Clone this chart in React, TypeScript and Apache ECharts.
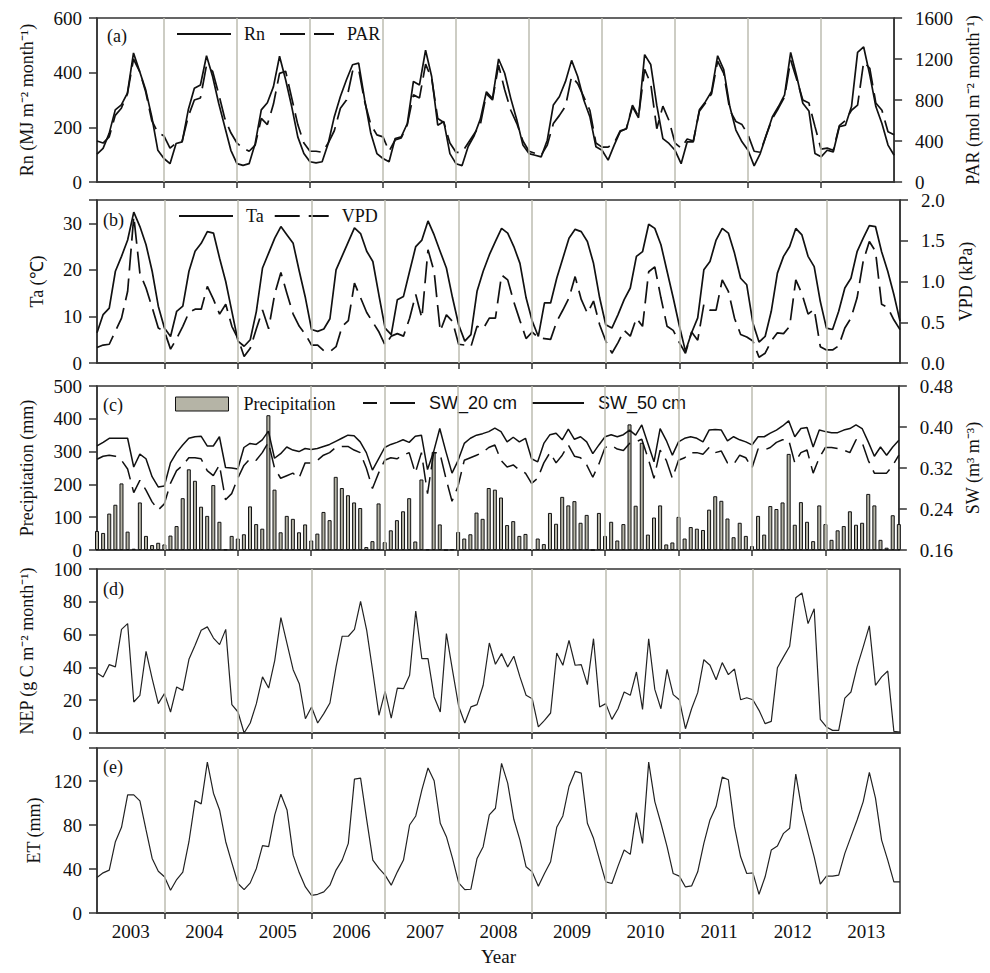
import React, { useEffect, useRef } from 'react';
import * as echarts from 'echarts';

const YEARS = ['2003', '2004', '2005', '2006', '2007', '2008', '2009', '2010', '2011', '2012', '2013'];

const RN = [
  102, 123, 178, 264, 282, 325, 472, 405, 337, 239, 116, 86,
  67, 141, 147, 264, 343, 355, 462, 386, 288, 202, 116, 67,
  61, 67, 141, 264, 290, 349, 460, 374, 276, 165, 104, 74,
  70, 74, 141, 239, 313, 374, 429, 435, 300, 178, 104, 86,
  74, 159, 165, 214, 368, 355, 482, 386, 208, 221, 104, 67,
  60, 130, 170, 230, 330, 305, 450, 398, 306, 227, 135, 104,
  98, 92, 153, 282, 313, 368, 445, 386, 300, 239, 129, 116,
  80, 135, 185, 195, 275, 235, 466, 430, 280, 159, 141, 116,
  67, 147, 147, 264, 294, 331, 462, 411, 276, 190, 147, 116,
  59, 104, 172, 239, 276, 319, 474, 386, 288, 260, 104, 92,
  116, 110, 202, 208, 276, 474, 494, 392, 276, 214, 135, 98,
];

const PAR = [
  400, 380, 440, 650, 720, 860, 1200, 1080, 880, 600, 480, 450,
  330, 380, 400, 640, 800, 820, 1140, 1080, 860, 620, 480, 380,
  330, 300, 360, 620, 560, 760, 1060, 1080, 820, 560, 380, 300,
  300, 290, 380, 500, 720, 800, 1080, 1100, 780, 560, 460, 440,
  300, 410, 430, 560, 850, 820, 1150, 1010, 620, 580, 380, 290,
  290, 380, 470, 560, 860, 800, 1140, 900, 700, 570, 400, 300,
  280, 260, 360, 570, 650, 740, 1030, 960, 830, 700, 380, 340,
  340, 380, 500, 520, 750, 640, 1100, 960, 520, 740, 600, 380,
  330, 420, 400, 690, 770, 860, 1180, 1060, 700, 590, 560, 460,
  300, 290, 460, 620, 720, 830, 1190, 1000, 800, 770, 540, 320,
  330, 310, 550, 600, 700, 750, 1170, 1110, 770, 700, 490, 460,
];

const TA = [
  6.5, 10.4, 11.8, 19.7, 22.9, 26.4, 32.4, 29.3, 25.4, 19.7, 12.2, 7.5,
  5.7, 11.1, 12.2, 19.7, 24, 25.7, 28.2, 27.9, 22.5, 17.5, 11.1, 4.7,
  3.6, 5.0, 11.1, 20.4, 23.6, 26.8, 29.3, 27.5, 25.7, 19.7, 14, 7.2,
  6.8, 7.3, 9.5, 20, 23, 26, 29, 27.8, 24, 21.8, 14.5, 7.5,
  6.1, 13.6, 14.3, 19.7, 25, 26.4, 30.5, 27.5, 23.9, 20.4, 14, 8.2,
  4.7, 6.1, 15.4, 19.7, 23.2, 26.1, 28.9, 27.9, 25, 21.4, 14, 9,
  5.7, 12.9, 12.9, 18.2, 22.5, 26.8, 28.7, 28.2, 26.1, 21.4, 14, 8.2,
  7.5, 10.4, 13.6, 16.1, 22.9, 23.9, 29.8, 28.9, 25.4, 19.7, 14, 8,
  2.5, 6.5, 9.7, 20, 21.8, 26.4, 28.9, 27.9, 23.6, 18.2, 16.8, 8.6,
  4.5, 5.7, 11.1, 19.3, 22.9, 25, 28.9, 27.5, 22.9, 20.7, 13.2, 7.5,
  7.2, 11.1, 16.1, 18.2, 23.9, 26.8, 29.5, 29.3, 23.9, 19.7, 14.7, 9,
];

const VPD = [
  0.19, 0.22, 0.23, 0.39, 0.55, 0.88, 1.80, 1.10, 0.92, 0.68, 0.43, 0.39,
  0.17, 0.30, 0.45, 0.62, 0.66, 0.66, 0.94, 0.78, 0.60, 0.72, 0.45, 0.30,
  0.08, 0.18, 0.42, 0.65, 0.42, 0.85, 1.11, 0.85, 0.60, 0.45, 0.35, 0.22,
  0.22, 0.15, 0.14, 0.20, 0.45, 0.52, 0.98, 0.80, 0.62, 0.50, 0.38, 0.22,
  0.33, 0.36, 0.33, 0.55, 0.84, 0.55, 1.39, 1.12, 0.39, 0.59, 0.51, 0.23,
  0.22, 0.20, 0.45, 0.42, 0.55, 0.55, 1.08, 1.02, 0.75, 0.52, 0.30, 0.38,
  0.31, 0.30, 0.29, 0.51, 0.65, 0.80, 1.06, 0.78, 0.61, 0.76, 0.47, 0.27,
  0.12, 0.25, 0.40, 0.33, 0.55, 0.45, 1.12, 1.18, 0.80, 0.45, 0.40, 0.25,
  0.12, 0.38, 0.28, 0.72, 0.65, 0.65, 1.02, 0.88, 0.55, 0.35, 0.32, 0.27,
  0.07, 0.12, 0.27, 0.37, 0.36, 0.45, 1.02, 0.85, 0.60, 0.66, 0.20, 0.16,
  0.16, 0.21, 0.43, 0.55, 0.80, 1.25, 1.49, 1.37, 0.72, 0.68, 0.53, 0.41,
];

const PRECIP = [
  58, 52, 111, 138, 203, 56, 4, 145, 43, 15, 22, 17,
  44, 73, 158, 246, 211, 132, 104, 198, 86, 2, 43, 35,
  48, 133, 79, 65, 411, 184, 54, 104, 95, 54, 78, 29,
  50, 116, 91, 223, 189, 167, 145, 128, 9, 27, 142, 24,
  60, 91, 118, 158, 26, 215, 2, 299, 78, 0, 2, 55,
  35, 48, 114, 95, 189, 184, 160, 76, 88, 43, 49, 2,
  35, 18, 113, 80, 162, 136, 149, 83, 107, 0, 113, 43,
  86, 29, 79, 383, 135, 327, 47, 99, 136, 17, 23, 101,
  35, 70, 65, 61, 123, 164, 150, 96, 39, 83, 43, 12,
  104, 47, 134, 125, 145, 293, 77, 146, 86, 27, 136, 79,
  31, 60, 73, 118, 77, 83, 171, 136, 31, 7, 106, 79,
];

const SW20 = [
  0.337, 0.343, 0.345, 0.343, 0.335, 0.318, 0.272, 0.296, 0.277, 0.254, 0.238, 0.250,
  0.290, 0.315, 0.325, 0.340, 0.340, 0.338, 0.315, 0.305, 0.326, 0.258, 0.270, 0.300,
  0.325, 0.338, 0.335, 0.350, 0.370, 0.320, 0.300, 0.305, 0.310, 0.300, 0.330, 0.330,
  0.335, 0.345, 0.350, 0.360, 0.362, 0.362, 0.355, 0.350, 0.320, 0.280, 0.310, 0.335,
  0.340, 0.338, 0.345, 0.350, 0.310, 0.350, 0.270, 0.350, 0.350, 0.300, 0.255, 0.285,
  0.335, 0.340, 0.345, 0.350, 0.360, 0.365, 0.335, 0.322, 0.326, 0.316, 0.310, 0.290,
  0.300, 0.330, 0.350, 0.330, 0.345, 0.365, 0.343, 0.340, 0.326, 0.302, 0.328, 0.360,
  0.364, 0.357, 0.354, 0.368, 0.371, 0.376, 0.340, 0.300, 0.355, 0.335, 0.300, 0.335,
  0.340, 0.350, 0.350, 0.347, 0.360, 0.350, 0.353, 0.330, 0.327, 0.345, 0.340, 0.320,
  0.357, 0.355, 0.360, 0.370, 0.375, 0.375, 0.330, 0.350, 0.355, 0.310, 0.340, 0.360,
  0.360, 0.358, 0.355, 0.350, 0.375, 0.370, 0.335, 0.310, 0.310, 0.310, 0.325, 0.345,
];

const SW50 = [
  0.363, 0.370, 0.378, 0.378, 0.378, 0.378, 0.322, 0.347, 0.338, 0.303, 0.283, 0.285,
  0.330, 0.350, 0.365, 0.378, 0.381, 0.382, 0.363, 0.363, 0.381, 0.321, 0.320, 0.318,
  0.360, 0.368, 0.366, 0.375, 0.392, 0.339, 0.348, 0.361, 0.355, 0.352, 0.358, 0.356,
  0.358, 0.362, 0.366, 0.372, 0.378, 0.384, 0.383, 0.371, 0.350, 0.316, 0.338, 0.360,
  0.366, 0.370, 0.375, 0.370, 0.382, 0.384, 0.317, 0.352, 0.397, 0.352, 0.310, 0.335,
  0.368, 0.378, 0.384, 0.387, 0.391, 0.398, 0.391, 0.371, 0.380, 0.371, 0.378, 0.338,
  0.332, 0.368, 0.385, 0.388, 0.375, 0.396, 0.376, 0.381, 0.371, 0.348, 0.365, 0.381,
  0.385, 0.381, 0.385, 0.394, 0.384, 0.404, 0.368, 0.332, 0.397, 0.374, 0.345, 0.371,
  0.378, 0.381, 0.378, 0.371, 0.394, 0.395, 0.394, 0.373, 0.381, 0.375, 0.371, 0.365,
  0.381, 0.381, 0.388, 0.394, 0.402, 0.412, 0.381, 0.397, 0.399, 0.361, 0.394, 0.391,
  0.389, 0.389, 0.394, 0.397, 0.404, 0.397, 0.371, 0.343, 0.361, 0.345, 0.361, 0.374,
];

const NEP = [
  36.6, 34.2, 41.7, 40.3, 63.2, 66.7, 18.9, 23, 49.8, 33.1, 17.9, 24,
  12.8, 28.1, 26, 44.9, 53.5, 62.6, 64.7, 57.9, 53.9, 63.2, 17.3, 12.8,
  0, 6.1, 17.9, 34.2, 27.4, 44.3, 70.3, 54.5, 38.6, 30.1, 8.7, 15.9,
  6.1, 11.8, 18.3, 40.3, 59, 59, 63.2, 80.3, 62.6, 37.2, 10.8, 25.4,
  9.1, 27.4, 27, 35.2, 74.4, 45.3, 45.3, 22, 12.8, 60.6, 38.2, 16.3,
  6.1, 15.9, 17.3, 29.1, 54.9, 41.9, 48.4, 40.3, 46.8, 34.2, 23, 20.9,
  3.7, 7.7, 12.2, 48.8, 41.3, 56.5, 41.3, 41.7, 29.5, 57.5, 15.9, 17.9,
  8.3, 14.8, 25, 23, 37.2, 14.4, 57.5, 26.6, 14.8, 38.8, 23.4, 20.3,
  2.6, 14.8, 24.6, 44.7, 41.3, 32.5, 42.9, 35.6, 39, 20.3, 21.5, 20.3,
  13.8, 5.7, 7.1, 39.8, 46.4, 52.9, 82.5, 85.4, 66.7, 75.8, 8.3, 3.7,
  1.6, 1.6, 21.3, 25, 40.3, 52.5, 65.3, 29.1, 34.2, 37.8, 1, 0.6,
];

const ET = [
  32.3, 36.5, 39, 64.8, 77.9, 107.4, 107.4, 101.9, 75.5, 49.6, 38, 32.9,
  20.7, 30.4, 37.1, 64.8, 102.2, 99.2, 137.2, 108.9, 93.7, 64.8, 45.6, 26.8,
  21.3, 27.4, 40.5, 61.2, 60.3, 89.2, 108, 93.7, 52.6, 36.5, 23.7, 16.1,
  17, 19.2, 25.3, 39, 48.1, 63.3, 121.7, 122.6, 84.6, 48.1, 40.5, 34.4,
  25.3, 37.4, 48.1, 80, 88.2, 112, 131.8, 120.2, 81.6, 69.4, 49.6, 27.4,
  21.3, 21.6, 49.6, 60.3, 89.2, 95.2, 136, 118.1, 85.2, 66.3, 42, 37.4,
  24.3, 35.9, 46.6, 77.9, 88.2, 115, 128.7, 127.2, 81.6, 67.9, 48.1, 28.3,
  26.8, 42.6, 57.2, 53.3, 91.3, 63.3, 137.2, 101.3, 81.6, 60.3, 35.9, 33.5,
  23.7, 24.6, 37.4, 63.3, 84.6, 96.8, 123.5, 121.1, 78.5, 51.1, 35.9, 36.5,
  17, 32.9, 57.2, 60.9, 72.4, 77, 126.3, 93.7, 72.4, 51.1, 26.2, 33.5,
  33.5, 34.4, 54.2, 69.4, 84.6, 101.3, 127.8, 104.4, 66.3, 48.1, 28.3, 28.3,
];

// month index of each year-end separator (December of 2003 ... 2012)
const SEPARATORS = [11, 23, 35, 47, 59, 71, 83, 95, 107, 119];
const YEAR_LABEL_POS = YEARS.map((_, k) => k * 12 + 5.5);

const SERIF = '"Liberation Serif", "Times New Roman", serif';
const SANS = '"Liberation Sans", Arial, sans-serif';
const AXIS_COLOR = '#333';
const SEP_COLOR = '#bdbdb0';

const GRIDS = [
  { top: 18, height: 164 },
  { top: 200, height: 163 },
  { top: 386, height: 164 },
  { top: 569, height: 164 },
  { top: 748, height: 165 },
];

const pairs = (arr: number[]) => arr.map((v, i) => [i, v]);

function buildOption() {
  const grid = GRIDS.map((g) => ({
    left: 97,
    right: 90,
    top: g.top,
    height: g.height,
    show: true,
    borderColor: AXIS_COLOR,
    borderWidth: 1.5,
    backgroundColor: 'transparent',
  }));

  const xAxis = GRIDS.map((_, gi) => ({
    gridIndex: gi,
    type: 'value',
    min: 0,
    max: 131,
    axisLine: { show: true, lineStyle: { color: AXIS_COLOR, width: 1.5 } },
    axisTick: {
      show: true,
      customValues: SEPARATORS,
      length: 6,
      lineStyle: { color: AXIS_COLOR, width: 1.5 },
    },
    axisLabel: {
      show: gi === 4,
      customValues: YEAR_LABEL_POS,
      formatter: (v: number) => YEARS[Math.floor(v / 12)] ?? '',
      fontFamily: SERIF,
      fontSize: 19,
      color: '#111',
      margin: 9,
    },
    splitLine: { show: false },
    name: gi === 4 ? 'Year' : '',
    nameLocation: 'middle',
    nameGap: 34,
    nameTextStyle: { fontFamily: SERIF, fontSize: 19, color: '#111' },
  }));

  const yBase = (gi: number, pos: 'left' | 'right', min: number, max: number, interval: number, name: string, nameGap: number, fmt: (v: number) => string, labelMargin = 15) => ({
    gridIndex: gi,
    type: 'value',
    position: pos,
    min,
    max,
    interval,
    name,
    nameLocation: 'middle',
    nameGap,
    nameRotate: 90,
    nameTextStyle: { fontFamily: SERIF, fontSize: 18, color: '#111' },
    axisLine: { show: true, lineStyle: { color: AXIS_COLOR, width: 1.5 } },
    axisTick: { show: true, length: 8, lineStyle: { color: AXIS_COLOR, width: 1.5 } },
    axisLabel: {
      fontFamily: SERIF,
      fontSize: 19,
      color: '#111',
      margin: labelMargin,
      formatter: fmt,
    },
    splitLine: { show: false },
  });

  const plain = (v: number) => String(v);

  const yAxis = [
    yBase(0, 'left', 0, 600, 200, 'Rn (MJ m⁻² month⁻¹)', 61, plain),
    yBase(0, 'right', 0, 1600, 400, 'PAR (mol m⁻² month⁻¹)', 66, plain, 21),
    yBase(1, 'left', 0, 35, 10, 'Ta (℃)', 51, (v: number) => (v === 35 ? '' : String(v))),
    yBase(1, 'right', 0, 2, 0.5, 'VPD (kPa)', 57, (v: number) => v.toFixed(1), 21),
    yBase(2, 'left', 0, 500, 100, 'Precipitation (mm)', 61, plain),
    yBase(2, 'right', 0.16, 0.48, 0.08, 'SW (m³ m⁻³)', 58, (v: number) => v.toFixed(2), 21),
    yBase(3, 'left', 0, 100, 20, 'NEP (g C m⁻² month⁻¹)', 61, plain),
    yBase(4, 'left', 0, 150, 40, 'ET (mm)', 52, (v: number) => (v === 150 ? '' : String(v))),
  ];

  const sepSeries = GRIDS.map((_, gi) => ({
    name: 'sep' + gi,
    type: 'line',
    xAxisIndex: gi,
    yAxisIndex: [0, 2, 4, 6, 7][gi],
    data: [],
    z: 1,
    silent: true,
    markLine: {
      silent: true,
      symbol: ['none', 'none'],
      label: { show: false },
      lineStyle: { color: SEP_COLOR, width: 1.5, type: 'solid' },
      data: SEPARATORS.map((v) => ({ xAxis: v })),
    },
  }));

  const lineSeries = (name: string, data: number[], xi: number, yi: number, dashed: boolean | number[], width = 1.7, color = '#111') => ({
    name,
    type: 'line',
    xAxisIndex: xi,
    yAxisIndex: yi,
    data: pairs(data),
    symbol: 'none',
    z: 3,
    lineStyle: {
      color,
      width,
      type: dashed ? (Array.isArray(dashed) ? dashed : [22, 8]) : 'solid',
    },
    itemStyle: { color },
  });

  const series: any[] = [
    ...sepSeries,
    lineSeries('Rn', RN, 0, 0, false),
    lineSeries('PAR', PAR, 0, 1, true),
    lineSeries('Ta', TA, 1, 2, false),
    lineSeries('VPD', VPD, 1, 3, true),
    {
      name: 'Precipitation',
      type: 'bar',
      xAxisIndex: 2,
      yAxisIndex: 4,
      data: pairs(PRECIP),
      barWidth: 4,
      z: 2,
      itemStyle: { color: '#b5b4a6', borderColor: '#111', borderWidth: 1 },
    },
    lineSeries('SW_20 cm', SW20, 2, 5, [20, 8], 1.5),
    lineSeries('SW_50 cm', SW50, 2, 5, false, 1.5),
    lineSeries('NEP', NEP, 3, 6, false, 1.2, '#222'),
    lineSeries('ET', ET, 4, 7, false, 1.2, '#222'),
  ];

  const SOLID_ICON = 'path://M0,0h54v2h-54z';
  const DASH_ICON = 'path://M0,0h25v2h-25z M34,0h20v2h-20z';
  const DASH_ICON_SW = 'path://M0,0h14v2h-14z M27,0h25v2h-25z';

  const legend = [
    {
      top: 25, left: 177, padding: 0, itemWidth: 54, itemHeight: 2, itemGap: 15,
      selectedMode: false,
      data: [{ name: 'Rn', icon: SOLID_ICON }, { name: 'PAR', icon: DASH_ICON }],
      textStyle: { fontFamily: SERIF, fontSize: 18, color: '#111', padding: [0, 0, 0, 8] },
    },
    {
      top: 207, left: 179, padding: 0, itemWidth: 54, itemHeight: 2, itemGap: 11,
      selectedMode: false,
      data: [{ name: 'Ta', icon: SOLID_ICON }, { name: 'VPD', icon: DASH_ICON }],
      textStyle: { fontFamily: SERIF, fontSize: 18, color: '#111', padding: [0, 0, 0, 8] },
    },
    {
      top: 395, left: 175, padding: 0, itemWidth: 53, itemHeight: 14, itemGap: 0,
      selectedMode: false,
      data: [{ name: 'Precipitation', icon: 'rect' }],
      itemStyle: { borderColor: '#111', borderWidth: 1 },
      textStyle: { fontFamily: SERIF, fontSize: 18, color: '#111', padding: [0, 0, 0, 10] },
    },
    {
      top: 394, left: 363, padding: 0, itemWidth: 52, itemHeight: 2, itemGap: 15,
      selectedMode: false,
      data: [{ name: 'SW_20 cm', icon: DASH_ICON_SW }, { name: 'SW_50 cm', icon: SOLID_ICON }],
      textStyle: { fontFamily: SANS, fontSize: 18, color: '#111', padding: [0, 0, 0, 9] },
    },
  ];

  const panelLabels = [
    { t: '(a)', x: 107, y: 27 },
    { t: '(b)', x: 103, y: 211 },
    { t: '(c)', x: 103, y: 396 },
    { t: '(d)', x: 103, y: 580 },
    { t: '(e)', x: 103, y: 758 },
  ];

  const graphic = panelLabels.map((p) => ({
    type: 'text',
    left: p.x,
    top: p.y,
    z: 10,
    style: { text: p.t, fontFamily: SERIF, fontSize: 18, fill: '#111' },
  }));

  return {
    animation: false,
    backgroundColor: '#ffffff',
    grid,
    xAxis,
    yAxis,
    series,
    legend,
    graphic,
  };
}

export default function App() {
  const ref = useRef<HTMLDivElement>(null);
  useEffect(() => {
    if (!ref.current) return;
    const chart = echarts.init(ref.current, null, { renderer: 'svg' });
    chart.setOption(buildOption() as any);
    return () => {
      chart.dispose();
    };
  }, []);
  return (
    <div
      ref={ref}
      style={{ position: 'absolute', left: 0, top: 0, width: 990, height: 973, background: '#fff' }}
    />
  );
}
